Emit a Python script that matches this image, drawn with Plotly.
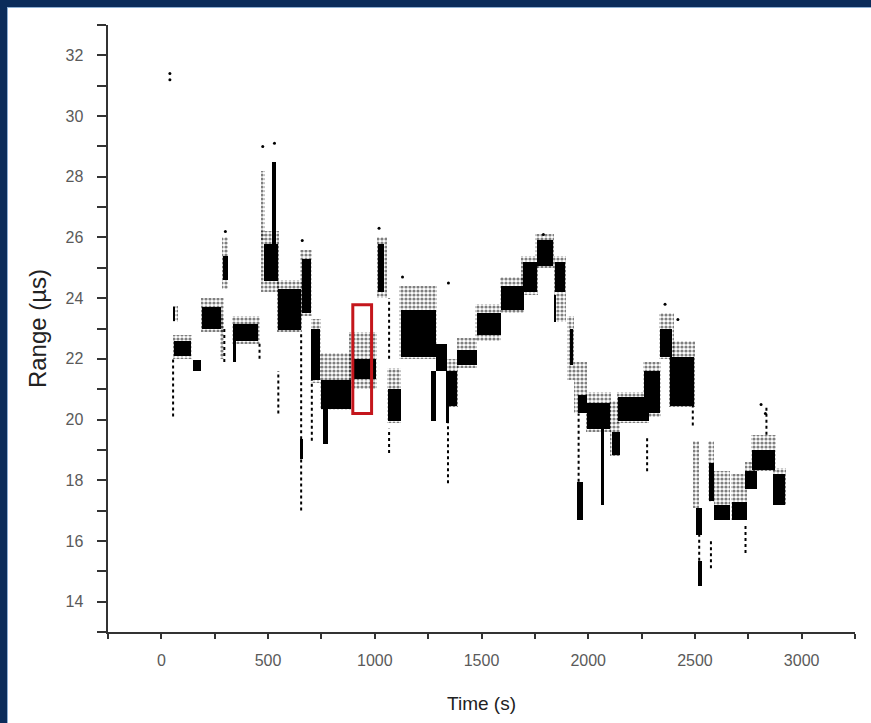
import plotly.graph_objects as go

# ---------------- data ----------------
# dense (solid) clusters of range samples: time span and range span
core_start = [55, 60, 150, 190, 288, 335, 335, 483, 520, 546, 660, 650, 702, 750, 756, 895,
              1015, 1060, 1121, 1285, 1265, 1335, 1350, 1386, 1480, 1590, 1695, 1760, 1845, 1840,
              1915, 1950, 1948, 1995, 2060, 2110, 2140, 2260, 2335, 2385, 2506, 2513, 2564, 2588,
              2673, 2736, 2767, 2868]
core_end = [60, 140, 185, 280, 310, 455, 350, 546, 537, 655, 700, 665, 745, 890, 780, 1005,
            1045, 1125, 1285, 1340, 1285, 1350, 1385, 1480, 1590, 1700, 1760, 1835, 1890, 1850,
            1930, 1995, 1976, 2100, 2075, 2150, 2283, 2338, 2393, 2494, 2533, 2533, 2588, 2666,
            2744, 2790, 2876, 2923]
core_low = [23.25, 22.1, 21.6, 23.0, 24.6, 22.6, 21.9, 24.55, 25.8, 22.95, 23.5, 18.7, 21.3, 20.35, 19.2, 21.35,
            24.2, 19.95, 22.06, 21.6, 19.95, 19.9, 20.45, 21.8, 22.8, 23.6, 24.2, 25.05, 24.2, 23.2,
            21.8, 20.2, 16.7, 19.7, 17.2, 18.83, 19.95, 20.2, 22.06, 20.45, 16.2, 14.5, 17.33, 16.7,
            16.7, 17.7, 18.33, 17.2]
core_high = [23.7, 22.6, 21.95, 23.7, 25.4, 23.15, 22.6, 25.8, 28.5, 24.3, 25.3, 19.35, 23.0, 21.3, 20.35, 22.0,
             25.8, 21.0, 23.6, 22.5, 21.6, 21.6, 21.6, 22.3, 23.5, 24.4, 25.2, 25.9, 25.2, 24.1,
             23.0, 20.8, 17.95, 20.55, 19.7, 19.6, 20.75, 21.6, 23.0, 22.06, 17.1, 15.35, 18.57, 17.2,
             17.3, 18.3, 19.0, 18.2]

# sparse (speckled) clouds around the clusters
halo_start = [55, 55, 185, 275, 285, 330, 465, 465, 540, 650, 700, 745, 880, 1012, 1058, 1115,
              1340, 1386, 1470, 1585, 1685, 1750, 1840, 1900, 1932, 1990, 2104, 2135, 2255, 2330,
              2380, 2490, 2560, 2588, 2670, 2736, 2765, 2868]
halo_end = [78, 145, 295, 295, 312, 460, 550, 485, 660, 705, 750, 890, 1010, 1055, 1125, 1290,
            1390, 1480, 1590, 1700, 1765, 1840, 1895, 1935, 1995, 2105, 2150, 2285, 2340, 2400,
            2500, 2520, 2590, 2666, 2744, 2790, 2880, 2925]
halo_low = [23.2, 22.0, 22.9, 22.0, 24.3, 22.5, 24.2, 25.9, 22.9, 23.4, 21.2, 20.3, 21.0, 24.0, 19.9, 22.0,
            20.4, 21.7, 22.6, 23.5, 24.1, 25.0, 23.2, 21.3, 20.2, 19.6, 18.8, 19.9, 20.1, 22.0,
            20.4, 17.1, 17.3, 16.7, 16.7, 17.7, 18.3, 17.2]
halo_high = [23.75, 22.8, 24.0, 23.4, 26.0, 23.4, 26.2, 28.2, 24.6, 25.6, 23.3, 22.2, 22.9, 26.0, 21.7, 24.4,
             22.0, 22.7, 23.8, 24.7, 25.4, 26.1, 25.4, 23.4, 21.9, 20.9, 20.6, 20.9, 21.9, 23.5,
             22.6, 19.3, 19.3, 18.3, 18.2, 18.6, 19.5, 18.4]

# thin vertical trails of isolated samples
trail_time = [55, 295, 460, 548, 655, 655, 705, 1067, 1067, 1343, 1955, 2276, 2490, 2520, 2575, 2737, 2835]
trail_low = [20.1, 21.9, 22.0, 20.2, 19.35, 17.0, 19.3, 18.9, 22.0, 17.9, 17.95, 18.3, 19.8, 15.35, 15.1, 15.6, 19.5]
trail_high = [22.0, 23.0, 22.5, 21.6, 22.9, 18.7, 21.3, 19.7, 24.0, 19.9, 20.2, 19.45, 20.45, 16.2, 16.0, 16.5, 20.4]

# single outlying samples
point_time = [40, 40, 300, 475, 530, 660, 1020, 1130, 1345, 1790, 2360, 2420, 2810, 2830]
point_range = [31.2, 31.4, 26.2, 29.0, 29.1, 25.9, 26.3, 24.7, 24.5, 26.1, 23.8, 23.3, 20.5, 20.2]

# highlighted window (red frame)
highlight_time = [897, 985]
highlight_range = [20.2, 23.78]

x_ticks = [0, 500, 1000, 1500, 2000, 2500, 3000]
x_minor = [-250, 250, 750, 1250, 1750, 2250, 2750, 3250]
y_ticks = [14, 16, 18, 20, 22, 24, 26, 28, 30, 32]
y_minor = [13, 15, 17, 19, 21, 23, 25, 27, 29, 31, 33]

# ---------------- figure ----------------
W, H = 871, 723
ML, MR, MT, MB = 108, 16, 25, 91
PW, PH = W - ML - MR, H - MT - MB

FONT = "Liberation Sans, Arial, sans-serif"

fig = go.Figure()

fig.add_trace(go.Bar(
    x=[(a + b) / 2 for a, b in zip(halo_start, halo_end)],
    width=[b - a for a, b in zip(halo_start, halo_end)],
    base=halo_low,
    y=[h - l for l, h in zip(halo_low, halo_high)],
    marker=dict(color="rgba(0,0,0,0)", line=dict(width=0),
                pattern=dict(shape=".", fgcolor="black", bgcolor="rgba(0,0,0,0)",
                             size=4, solidity=0.5, fillmode="overlay")),
    showlegend=False, hoverinfo="skip"))

fig.add_trace(go.Bar(
    x=[(a + b) / 2 for a, b in zip(core_start, core_end)],
    width=[b - a for a, b in zip(core_start, core_end)],
    base=core_low,
    y=[h - l for l, h in zip(core_low, core_high)],
    marker=dict(color="black", line=dict(width=0)),
    showlegend=False, hoverinfo="skip"))

tx, ty = [], []
for t, lo, hi in zip(trail_time, trail_low, trail_high):
    tx += [t, t, None]
    ty += [lo, hi, None]
fig.add_trace(go.Scatter(x=tx, y=ty, mode="lines",
                         line=dict(color="black", width=2, dash="dot"),
                         showlegend=False, hoverinfo="skip"))

fig.add_trace(go.Scatter(x=point_time, y=point_range, mode="markers",
                         marker=dict(color="black", size=3),
                         showlegend=False, hoverinfo="skip"))

fig.add_shape(type="rect", xref="x", yref="y",
              x0=highlight_time[0], x1=highlight_time[1],
              y0=highlight_range[0], y1=highlight_range[1],
              line=dict(color="#c4161c", width=3), fillcolor="rgba(0,0,0,0)")


def px_x(p):
    return (p - ML) / PW


def px_y(p):
    return (H - MB - p) / PH


NAVY = "#0b2c5a"
# frame of the picture
fig.add_shape(type="rect", xref="paper", yref="paper", x0=px_x(0), x1=px_x(7),
              y0=px_y(H), y1=px_y(0), fillcolor=NAVY, line=dict(width=0), layer="above")
fig.add_shape(type="rect", xref="paper", yref="paper", x0=px_x(0), x1=px_x(W),
              y0=px_y(7), y1=px_y(0), fillcolor=NAVY, line=dict(width=0), layer="above")
fig.add_shape(type="line", xref="paper", yref="paper", x0=px_x(7.5), x1=px_x(7.5),
              y0=px_y(H), y1=px_y(7), line=dict(color="#8fb0d4", width=1))
fig.add_shape(type="line", xref="paper", yref="paper", x0=px_x(7), x1=px_x(W),
              y0=px_y(7.5), y1=px_y(7.5), line=dict(color="#8fb0d4", width=1))

TICKFONT = dict(family=FONT, size=16, color="#5a5a5a")

fig.update_layout(
    width=W, height=H,
    margin=dict(l=ML, r=MR, t=MT, b=MB, autoexpand=False),
    paper_bgcolor="white", plot_bgcolor="white",
    barmode="overlay", bargap=0,
    font=dict(family=FONT),
    xaxis=dict(range=[-250, 3250], tickvals=x_ticks, ticktext=[str(v) for v in x_ticks],
               showgrid=False, zeroline=False, showline=True, linecolor="#333333", linewidth=2,
               ticks="outside", ticklen=5, tickwidth=1.5, tickcolor="#333333", tickfont=TICKFONT,
               minor=dict(tickvals=x_minor, ticks="outside", ticklen=5, tickwidth=1.5,
                          tickcolor="#333333"),
               ticklabelstandoff=8,
               title=dict(text="Time (s)", font=dict(family=FONT, size=19, color="#222222"),
                          standoff=28),
               automargin=False),
    yaxis=dict(range=[13, 33], tickvals=y_ticks,
               ticktext=[f"{v}\u00a0" for v in y_ticks],
               showgrid=False, zeroline=False, showline=True, linecolor="#333333", linewidth=2,
               ticks="outside", ticklen=9, tickwidth=1.5, tickcolor="#333333", tickfont=TICKFONT,
               minor=dict(tickvals=y_minor, ticks="outside", ticklen=9, tickwidth=1.5,
                          tickcolor="#333333"),
               ticklabelstandoff=6,
               title=dict(text="Range (µs)", font=dict(family=FONT, size=24, color="#222222"),
                          standoff=12),
               automargin=False),
)

fig.write_html("out.html")
